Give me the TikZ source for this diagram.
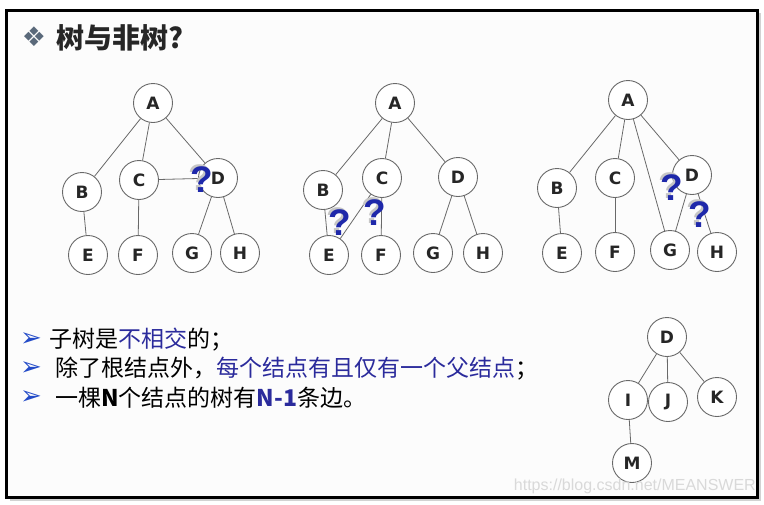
\documentclass[tikz,border=0pt]{standalone}
\usepackage{fontspec}
\setmainfont{Liberation Sans}
\newfontfamily\cjk{Noto Sans CJK SC}
\newfontfamily\symfont{DejaVu Sans}
\definecolor{slideblue}{RGB}{43,43,156}
\definecolor{bulletblue}{RGB}{35,75,200}
\definecolor{qblue}{RGB}{30,40,170}
\definecolor{nodegray}{RGB}{105,105,105}
\definecolor{ornagray}{RGB}{90,105,122}

\begin{document}
\begin{tikzpicture}[x=1pt, y=-1pt,
  vtx/.style={draw=nodegray, line width=0.9pt, circle, minimum size=39pt, inner sep=0pt, fill=white, text=black!85, font=\symfont\bfseries\fontsize{17}{17}\selectfont},
  link/.style={draw=nodegray, line width=0.8pt},
  qmark/.style={text=qblue, inner sep=0pt, font=\bfseries\fontsize{37}{37}\selectfont},
  qshade/.style={text=gray!45, inner sep=0pt, font=\bfseries\fontsize{37}{37}\selectfont},
  bodytext/.style={anchor=west, inner sep=0pt, font=\cjk\fontsize{23}{23}\selectfont},
  bullet/.style={inner sep=0pt, text=bulletblue, font=\symfont\bfseries\fontsize{26}{26}\selectfont}
]
\useasboundingbox (0,0) rectangle (764,504);
\fill[white] (0,0) rectangle (764,504);
% slide frame
\fill[gray!35] (10,13) rectangle (761,501);
\draw[line width=3pt, fill=white!98!gray] (6.5,10) rectangle (757.5,497);

% title
\node[inner sep=0pt, text=ornagray, font=\symfont\fontsize{27}{27}\selectfont] (orn) at (34,37) {❖};
\node[anchor=west, inner sep=0pt, text=black!85, font=\cjk\bfseries\fontsize{28}{28}\selectfont] (title) at (56,38) {树与非树?};

% tree 1
\node[vtx] (A1) at (153,103) {A};
\node[vtx] (B1) at (82,192) {B};
\node[vtx] (C1) at (139,180) {C};
\node[vtx] (D1) at (218,178) {D};
\node[vtx] (E1) at (88,255) {E};
\node[vtx] (F1) at (138,255) {F};
\node[vtx] (G1) at (192,253) {G};
\node[vtx] (H1) at (240,253) {H};
\draw[link] (A1) -- (B1);
\draw[link] (A1) -- (C1);
\draw[link] (A1) -- (D1);
\draw[link] (C1) -- (D1);
\draw[link] (B1) -- (E1);
\draw[link] (C1) -- (F1);
\draw[link] (D1) -- (G1);
\draw[link] (D1) -- (H1);
\node[qshade] (q1s) at (200,178) {?};
\node[qmark] (q1) at (202,180) {?};

% tree 2
\node[vtx] (A2) at (395,103) {A};
\node[vtx] (B2) at (323,190) {B};
\node[vtx] (C2) at (382,178) {C};
\node[vtx] (D2) at (458,177) {D};
\node[vtx] (E2) at (329,255) {E};
\node[vtx] (F2) at (381,255) {F};
\node[vtx] (G2) at (433,253) {G};
\node[vtx] (H2) at (483,253) {H};
\draw[link] (A2) -- (B2);
\draw[link] (A2) -- (C2);
\draw[link] (A2) -- (D2);
\draw[link] (B2) -- (E2);
\draw[link] (C2) -- (E2);
\draw[link] (C2) -- (F2);
\draw[link] (D2) -- (G2);
\draw[link] (D2) -- (H2);
\node[qshade] (q2s) at (338,221) {?};
\node[qmark] (q2) at (340,223) {?};
\node[qshade] (q3s) at (373,211) {?};
\node[qmark] (q3) at (375,213) {?};

% tree 3
\node[vtx] (A3) at (628,100) {A};
\node[vtx] (B3) at (557,188) {B};
\node[vtx] (C3) at (615,178) {C};
\node[vtx] (D3) at (692,175) {D};
\node[vtx] (E3) at (562,253) {E};
\node[vtx] (F3) at (615,252) {F};
\node[vtx] (G3) at (670,250) {G};
\node[vtx] (H3) at (717,252) {H};
\draw[link] (A3) -- (B3);
\draw[link] (A3) -- (C3);
\draw[link] (A3) -- (G3);
\draw[link] (A3) -- (D3);
\draw[link] (B3) -- (E3);
\draw[link] (C3) -- (F3);
\draw[link] (D3) -- (G3);
\draw[link] (D3) -- (H3);
\node[qshade] (q4s) at (670,186) {?};
\node[qmark] (q4) at (672,188) {?};
\node[qshade] (q5s) at (698,213) {?};
\node[qmark] (q5) at (700,215) {?};

% tree 4
\node[vtx] (D4) at (667,337) {D};
\node[vtx] (I4) at (628,400) {I};
\node[vtx] (J4) at (668,402) {J};
\node[vtx] (K4) at (717,397) {K};
\node[vtx] (M4) at (632,463) {M};
\draw[link] (D4) -- (I4);
\draw[link] (D4) -- (J4);
\draw[link] (D4) -- (K4);
\draw[link] (I4) -- (M4);

% bullet list
\node[bullet] (b1) at (31,340) {➢};
\node[bullet] (b2) at (31,369) {➢};
\node[bullet] (b3) at (31,398) {➢};
\node[bodytext] (line1) at (49,340) {子树是{\color{slideblue}不相交}的；};
\node[bodytext] (line2) at (55,369) {除了根结点外，{\color{slideblue}每个结点有且仅有一个父结点}；};
\node[bodytext] (line3) at (55,398) {一棵\textbf{N}个结点的树有{\bfseries\color{slideblue}N-1}条边。};

\node[anchor=east, inner sep=0pt, text=gray!30, font=\fontsize{16}{16}\selectfont] (url) at (756,486) {https://blog.csdn.net/MEANSWER};
\end{tikzpicture}
\end{document}
